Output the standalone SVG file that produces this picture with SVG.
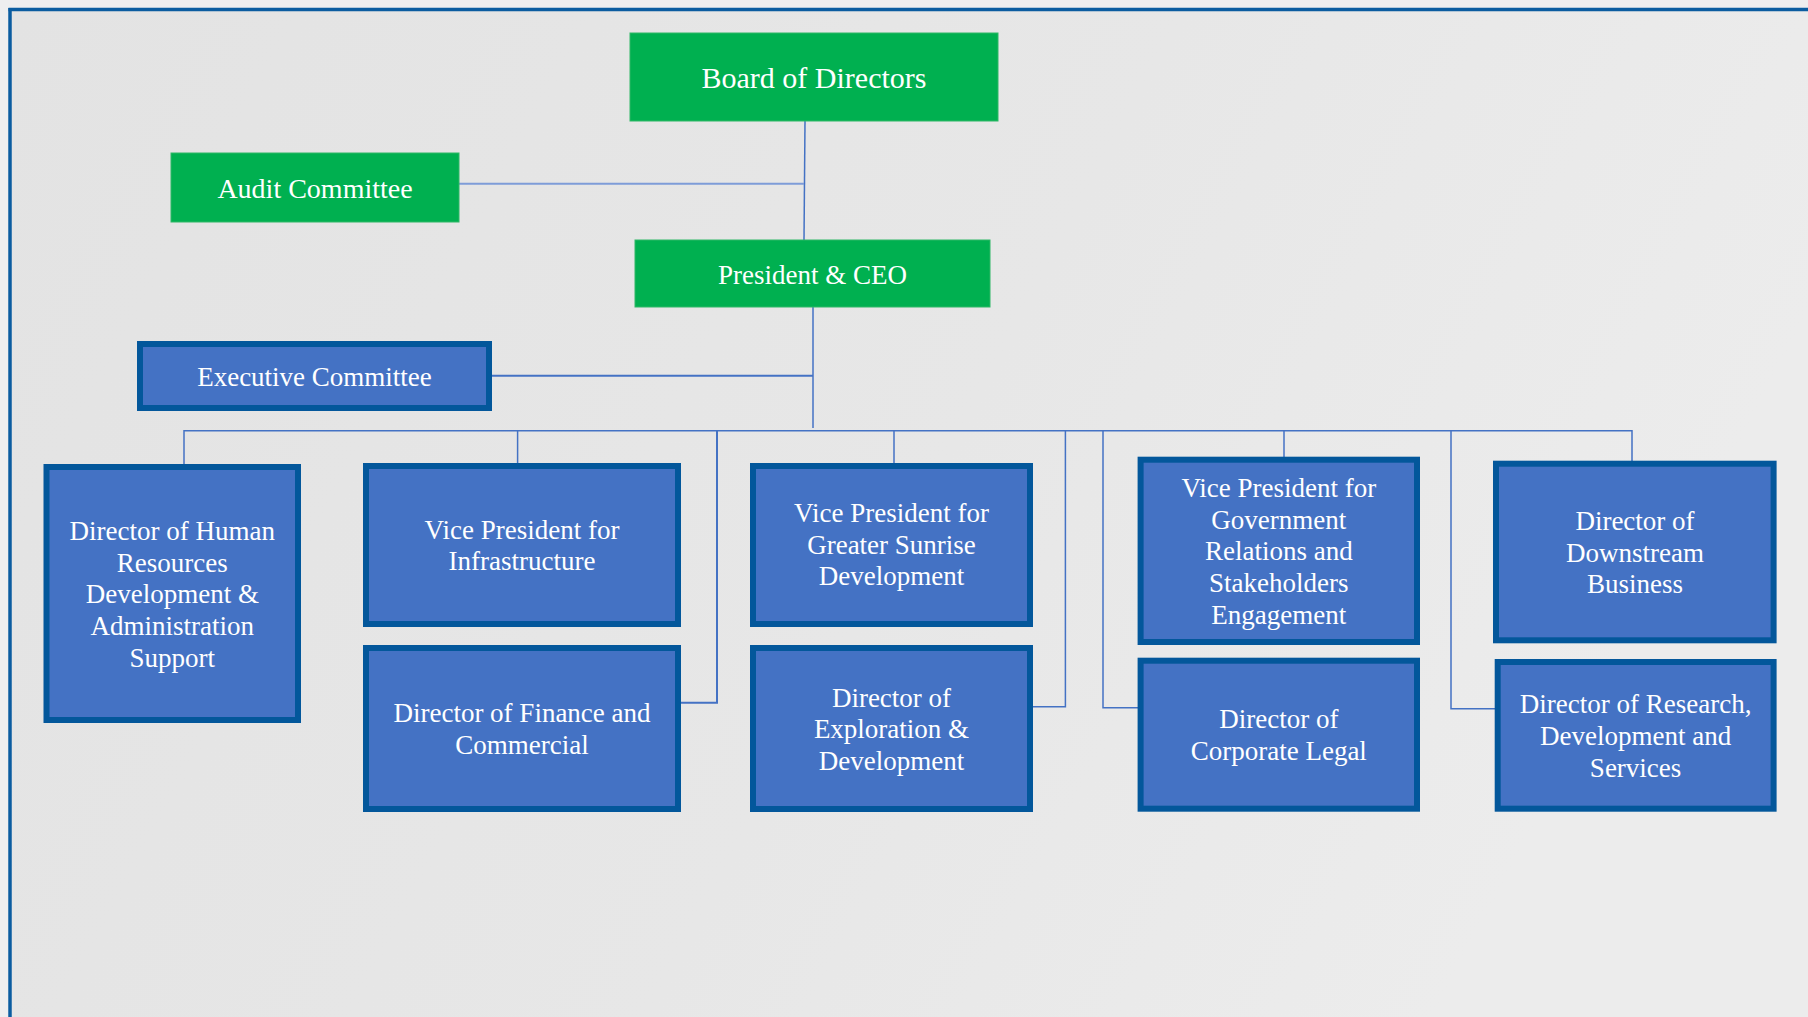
<svg xmlns="http://www.w3.org/2000/svg" width="1808" height="1017" viewBox="0 0 1808 1017">
<defs>
<linearGradient id="bg" x1="0" y1="0" x2="1" y2="0.3">
<stop offset="0" stop-color="#E3E3E3"/>
<stop offset="0.6" stop-color="#E7E7E7"/>
<stop offset="1" stop-color="#ECECEC"/>
</linearGradient>
<style>
.g{fill:#00B050;stroke:#2FB866;stroke-width:1}
.b{fill:#4472C4;stroke:#03579B;stroke-width:6}
.t{font-family:"Liberation Serif","Times New Roman",serif;fill:#FFFFFF;text-anchor:middle;font-size:27px}
.c{fill:none;stroke:#4472C4;stroke-width:1.5}
</style>
</defs>
<rect x="0" y="0" width="1808" height="1017" fill="#EEEEEF"/>
<rect x="10" y="9.5" width="1800" height="1010" fill="url(#bg)"/>
<g id="frame" fill="none" stroke="#0B5CA0" stroke-width="3.5">
<line x1="8.5" y1="9.5" x2="1808" y2="9.5"/>
<line x1="10" y1="8" x2="10" y2="1017"/>
</g>
<g id="connectors">
<polyline class="c" points="805,121 804,240"/>
<polyline class="c" points="459,183.7 804,183.7" style="stroke:#7E9CD8;stroke-width:2"/>
<polyline class="c" points="813,307 813,428"/>
<polyline class="c" points="492,375.7 813,375.7" style="stroke-width:2"/>
<polyline class="c" points="184,464 184,430.7 1632,430.7 1632,461"/>
<polyline class="c" points="517.6,430.7 517.6,463"/>
<polyline class="c" points="894,430.7 894,463"/>
<polyline class="c" points="1284,430.7 1284,457"/>
<polyline class="c" points="717,430.7 717,702.7 681,702.7" style="stroke-width:2"/>
<polyline class="c" points="1065.4,430.7 1065.4,706.7 1033,706.7"/>
<polyline class="c" points="1103,430.7 1103,707.7 1140,707.7"/>
<polyline class="c" points="1451,430.7 1451,708.7 1495,708.7"/>
</g>
<g id="board">
<rect class="g" x="630" y="33" width="368" height="88"/>
<text class="t" x="814" y="87.5" style="font-size:30px">Board of Directors</text>
</g>
<g id="audit">
<rect class="g" x="171" y="153" width="288" height="69"/>
<text class="t" x="315" y="198" style="font-size:28px">Audit Committee</text>
</g>
<g id="president">
<rect class="g" x="635" y="240" width="355" height="67"/>
<text class="t" x="812.5" y="283.5">President &amp; CEO</text>
</g>
<g id="executive">
<rect class="b" x="140" y="344" width="349" height="64"/>
<text class="t" x="314.5" y="386">Executive Committee</text>
</g>
<g id="hr">
<rect class="b" x="46.5" y="467" width="251.5" height="253"/>
<text class="t" x="172.3" y="540"><tspan x="172.3">Director of Human</tspan><tspan x="172.3" dy="31.7">Resources</tspan><tspan x="172.3" dy="31.7">Development &amp;</tspan><tspan x="172.3" dy="31.7">Administration</tspan><tspan x="172.3" dy="31.7">Support</tspan></text>
</g>
<g id="vp-infra">
<rect class="b" x="366" y="466" width="312" height="158"/>
<text class="t" x="522" y="538.5"><tspan x="522">Vice President for</tspan><tspan x="522" dy="31.7">Infrastructure</tspan></text>
</g>
<g id="finance">
<rect class="b" x="366" y="648" width="312" height="161"/>
<text class="t" x="522" y="722"><tspan x="522">Director of Finance and</tspan><tspan x="522" dy="31.7">Commercial</tspan></text>
</g>
<g id="vp-sunrise">
<rect class="b" x="753" y="466" width="277" height="158"/>
<text class="t" x="891.5" y="522"><tspan x="891.5">Vice President for</tspan><tspan x="891.5" dy="31.7">Greater Sunrise</tspan><tspan x="891.5" dy="31.7">Development</tspan></text>
</g>
<g id="exploration">
<rect class="b" x="753" y="648" width="277" height="161"/>
<text class="t" x="891.5" y="706.5"><tspan x="891.5">Director of</tspan><tspan x="891.5" dy="31.7">Exploration &amp;</tspan><tspan x="891.5" dy="31.7">Development</tspan></text>
</g>
<g id="vp-gov">
<rect class="b" x="1140.6" y="459.7" width="276.4" height="182.3"/>
<text class="t" x="1278.8" y="496.8"><tspan x="1278.8">Vice President for</tspan><tspan x="1278.8" dy="31.7">Government</tspan><tspan x="1278.8" dy="31.7">Relations and</tspan><tspan x="1278.8" dy="31.7">Stakeholders</tspan><tspan x="1278.8" dy="31.7">Engagement</tspan></text>
</g>
<g id="legal">
<rect class="b" x="1140.6" y="660.7" width="276.4" height="148"/>
<text class="t" x="1278.8" y="728.3"><tspan x="1278.8">Director of</tspan><tspan x="1278.8" dy="31.7">Corporate Legal</tspan></text>
</g>
<g id="downstream">
<rect class="b" x="1496" y="463.7" width="277.6" height="176.6"/>
<text class="t" x="1635" y="529.8"><tspan x="1635">Director of</tspan><tspan x="1635" dy="31.7">Downstream</tspan><tspan x="1635" dy="31.7">Business</tspan></text>
</g>
<g id="research">
<rect class="b" x="1497.7" y="662" width="275.9" height="146.7"/>
<text class="t" x="1635.6" y="713.2"><tspan x="1635.6">Director of Research,</tspan><tspan x="1635.6" dy="31.7">Development and</tspan><tspan x="1635.6" dy="31.7">Services</tspan></text>
</g>
</svg>
